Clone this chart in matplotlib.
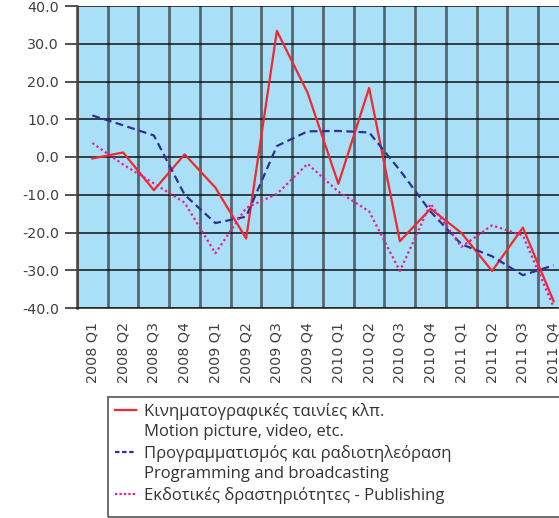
import matplotlib.pyplot as plt
from matplotlib.lines import Line2D
from matplotlib.patches import Rectangle

quarters = ['2008 Q1', '2008 Q2', '2008 Q3', '2008 Q4',
            '2009 Q1', '2009 Q2', '2009 Q3', '2009 Q4',
            '2010 Q1', '2010 Q2', '2010 Q3', '2010 Q4',
            '2011 Q1', '2011 Q2', '2011 Q3', '2011 Q4']

motion = [-0.4, 1.2, -8.8, 0.7, -8.1, -21.6, 33.4, 17.0,
          -7.1, 18.3, -22.3, -13.7, -20.1, -30.2, -18.7, -38.2]
programming = [11.0, 8.4, 5.7, -10.0, -17.5, -15.8, 2.9, 6.8,
               6.9, 6.5, -3.5, -14.5, -23.1, -26.3, -31.3, -28.7]
publishing = [3.7, -2.0, -7.0, -12.1, -25.5, -13.5, -9.8, -1.8,
              -9.2, -14.4, -30.2, -12.4, -23.8, -18.1, -20.8, -39.7]

label_motion = 'Κινηματογραφικές ταινίες κλπ.'
label_motion_en = 'Motion picture, video, etc.'
label_prog = 'Προγραμματισμός και ραδιοτηλεόραση'
label_prog_en = 'Programming and broadcasting'
label_pub = 'Εκδοτικές δραστηριότητες - Publishing'

plt.rcParams['font.family'] = ['DejaVu Sans']

fig = plt.figure(figsize=(5.59, 5.18), dpi=100)
ax = fig.add_axes([77/559, 210/518, 492/559, 302/518])
ax.set_facecolor('#aadff8')

x = list(range(len(quarters)))
ax.plot(x, motion, color='#ee2a2f', lw=1.6, zorder=3)
ax.plot(x, programming, color='#2e3192', lw=1.6, ls=(0, (3.5, 2)), zorder=3)
ax.plot(x, publishing, color='#ec1c8c', lw=1.6, ls=(0, (1, 1.3)), zorder=3)

ax.set_xlim(-0.5, 15.5)
ax.set_ylim(-40, 40)
ax.set_yticks(range(-40, 41, 10))
ax.set_yticklabels([f'{v:.1f}' for v in range(-40, 41, 10)])
ax.set_xticks(x)
ax.set_xticklabels(quarters, rotation=90)
ax.set_xticks([i + 0.5 for i in range(-1, 16)], minor=True)

ax.grid(True, axis='y', which='major', color='#111111', lw=1.1)
ax.grid(True, axis='x', which='minor', color='#333333', lw=2, alpha=0.7)
ax.set_axisbelow(True)

ax.tick_params(axis='y', length=9, width=1.1, color='#222222', labelsize=10.3,
               labelcolor='#404040', pad=4)
ax.tick_params(axis='x', which='major', length=0, labelsize=10.3,
               labelcolor='#404040', pad=10)
ax.tick_params(axis='x', which='minor', length=0)

for s in ['top', 'right']:
    ax.spines[s].set_visible(False)
ax.spines['left'].set_color('#444444')
ax.spines['left'].set_linewidth(1.8)
ax.spines['bottom'].set_color('#222222')
ax.spines['bottom'].set_linewidth(1.1)

# legend frame runs off the right edge, as in the original
fig.patches.append(Rectangle((108/559, 1/518), 0.95, 120/518,
                             transform=fig.transFigure, fill=False,
                             edgecolor='#555555', lw=1.2))

blank = Line2D([], [], color='none')
handles = [Line2D([], [], color='#ee2a2f', lw=1.6), blank,
           Line2D([], [], color='#2e3192', lw=1.6, ls=(0, (2, 1.2))), blank,
           Line2D([], [], color='#ec1c8c', lw=1.6, ls=(0, (1, 1)))]
labels = [label_motion, label_motion_en, label_prog, label_prog_en, label_pub]
fig.legend(handles, labels, loc='upper left',
           bbox_to_anchor=(115/559, 1 - 403/518), frameon=False,
           prop={'family': ['Open Sans', 'DejaVu Sans'], 'size': 12},
           handlelength=1.25, handletextpad=0.5,
           labelspacing=0.27, borderaxespad=0, borderpad=0.0,
           labelcolor='#333333')

fig.savefig('out.png', dpi=100)
